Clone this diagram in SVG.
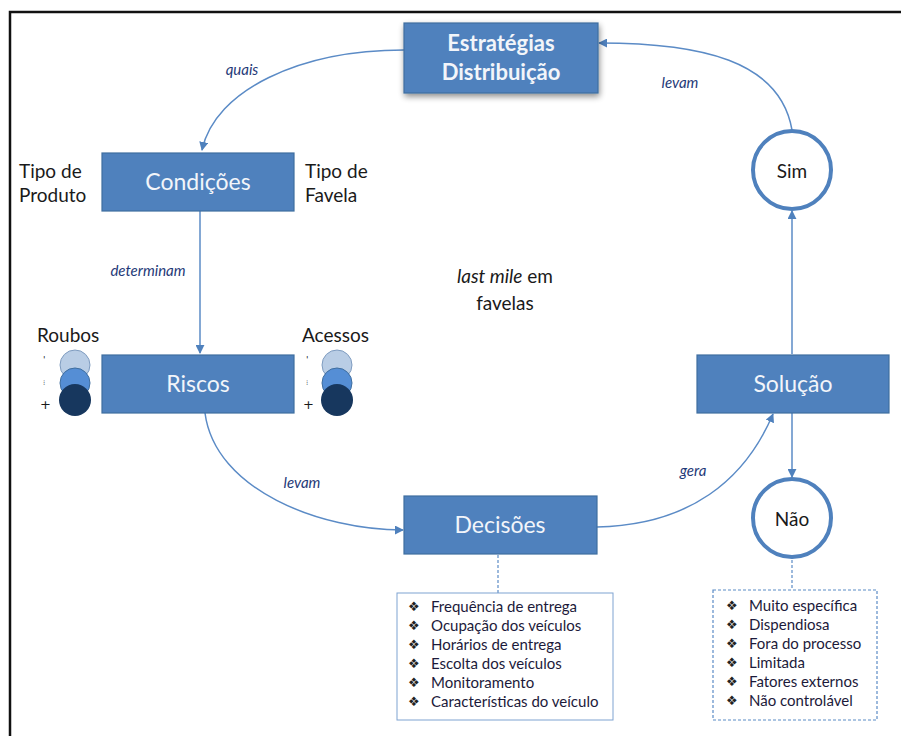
<svg xmlns="http://www.w3.org/2000/svg" width="901" height="736" viewBox="0 0 901 736">
  <defs>
    <style>
      .box { fill: #4F81BD; stroke: #3F6E9F; stroke-width: 1.2; }
      .btxt { font-family: Lato, "Liberation Sans", sans-serif; font-size: 23px; fill: #F2F5FA; text-anchor: middle; }
      .bold { font-weight: bold; font-size: 22px; }
      .lbl { font-family: Lato, "Liberation Sans", sans-serif; font-size: 19px; fill: #1a1a1a; }
      .edge { fill: none; stroke: #5B8BC6; stroke-width: 1.5; }
      .elbl { font-family: Lato, "Liberation Sans", sans-serif; font-size: 15px; font-style: italic; fill: #1F3A78; text-anchor: middle; }
      .ring { fill: #fff; stroke: #4F81BD; stroke-width: 4; }
      .list { font-family: Lato, "Liberation Sans", sans-serif; font-size: 15px; fill: #1c1a3a; }
      .bul { font-family: "DejaVu Sans", sans-serif; font-size: 13px; fill: #222; }
      .dash { fill: none; stroke: #5B8BC6; stroke-width: 1.2; stroke-dasharray: 3 2; }
      .tick { font-family: "DejaVu Sans", sans-serif; fill: #1a1a1a; }
    </style>
    <marker id="arr" viewBox="0 0 10 10" refX="9" refY="5" markerWidth="9" markerHeight="9" markerUnits="userSpaceOnUse" orient="auto">
      <path d="M0,0 L10,5 L0,10 z" fill="#4F81BD"/>
    </marker>
    <filter id="glow" x="-20%" y="-30%" width="140%" height="160%">
      <feGaussianBlur in="SourceAlpha" stdDeviation="3"/>
      <feOffset dx="1" dy="3"/>
      <feComponentTransfer><feFuncA type="linear" slope="0.45"/></feComponentTransfer>
      <feMerge><feMergeNode/><feMergeNode in="SourceGraphic"/></feMerge>
    </filter>
  </defs>

  <rect width="901" height="736" fill="#fff"/>
  <!-- outer frame -->
  <path d="M10,736 V12 H901" fill="none" stroke="#111" stroke-width="2.5"/>

  <!-- connectors -->
  <g id="connectors">
    <path class="edge" d="M404,50 C300,50 215,90 202,150" marker-end="url(#arr)"/>
    <path class="edge" d="M792,130 C780,60 700,43 599,43" marker-end="url(#arr)"/>
    <path class="edge" d="M200,211 V353" marker-end="url(#arr)"/>
    <path class="edge" d="M205,413 C215,490 320,530 403,530" marker-end="url(#arr)"/>
    <path class="edge" d="M597,527 C690,525 745,480 773,414" marker-end="url(#arr)"/>
    <path class="edge" d="M792,354 V211" marker-end="url(#arr)"/>
    <path class="edge" d="M792,413 V477" marker-end="url(#arr)"/>
    <path class="dash" d="M498,555 V593"/>
    <path class="dash" d="M792,560 V590"/>
    <text class="elbl" x="242" y="75">quais</text>
    <text class="elbl" x="680" y="88">levam</text>
    <text class="elbl" x="148" y="276">determinam</text>
    <text class="elbl" x="302" y="488">levam</text>
    <text class="elbl" x="693" y="476">gera</text>
  </g>

  <g id="estrategias">
    <rect class="box" x="404" y="23" width="194" height="70" filter="url(#glow)"/>
    <text class="btxt bold" x="501" y="51">Estratégias</text>
    <text class="btxt bold" x="501" y="80">Distribuição</text>
  </g>

  <g id="condicoes">
    <rect class="box" x="102" y="153" width="192" height="58"/>
    <text class="btxt" x="198" y="190">Condições</text>
    <text class="lbl" x="19" y="178">Tipo de</text>
    <text class="lbl" x="19" y="202">Produto</text>
    <text class="lbl" x="305" y="178">Tipo de</text>
    <text class="lbl" x="305" y="202">Favela</text>
  </g>

  <g id="riscos">
    <rect class="box" x="102" y="355" width="192" height="58"/>
    <text class="btxt" x="198" y="392">Riscos</text>
  </g>

  <g id="roubos">
    <text class="lbl" x="37" y="342">Roubos</text>
    <circle cx="75" cy="365" r="15" fill="#B9CDE5" stroke="#7F9CC0" stroke-width="1"/>
    <circle cx="75" cy="383" r="15" fill="#558ED5" stroke="#3F6E9F" stroke-width="1"/>
    <circle cx="75" cy="400" r="16" fill="#17375E"/>
    <text class="tick" x="43" y="363" font-size="9">'</text>
    <text class="tick" x="43" y="385" font-size="7">⁝</text>
    <text class="tick" x="40" y="409" font-size="13">+</text>
  </g>

  <g id="acessos">
    <text class="lbl" x="302" y="342">Acessos</text>
    <circle cx="337" cy="365" r="15" fill="#B9CDE5" stroke="#7F9CC0" stroke-width="1"/>
    <circle cx="337" cy="383" r="15" fill="#558ED5" stroke="#3F6E9F" stroke-width="1"/>
    <circle cx="337" cy="400" r="16" fill="#17375E"/>
    <text class="tick" x="306" y="363" font-size="9">'</text>
    <text class="tick" x="306" y="385" font-size="7">⁝</text>
    <text class="tick" x="303" y="409" font-size="13">+</text>
  </g>

  <g id="centro">
    <text class="lbl" x="505" y="283" text-anchor="middle" font-size="21"><tspan font-style="italic">last mile</tspan> em</text>
    <text class="lbl" x="505" y="310" text-anchor="middle" font-size="21">favelas</text>
  </g>

  <g id="decisoes">
    <rect class="box" x="404" y="496" width="193" height="58"/>
    <text class="btxt" x="500" y="533">Decisões</text>
  </g>

  <g id="solucao">
    <rect class="box" x="697" y="355" width="192" height="58"/>
    <text class="btxt" x="793" y="392">Solução</text>
  </g>

  <g id="sim">
    <circle class="ring" cx="792" cy="170" r="39"/>
    <text class="lbl" x="792" y="178" text-anchor="middle" font-size="22">Sim</text>
  </g>

  <g id="nao">
    <circle class="ring" cx="792" cy="518" r="39"/>
    <text class="lbl" x="792" y="526" text-anchor="middle" font-size="22">Não</text>
  </g>

  <g id="lista-decisoes">
    <rect x="397" y="593" width="216" height="127" fill="#fff" stroke="#7FA3D1" stroke-width="1"/>
    <g class="bul">
      <text x="408" y="611">❖</text><text x="408" y="630">❖</text><text x="408" y="649">❖</text>
      <text x="408" y="668">❖</text><text x="408" y="687">❖</text><text x="408" y="706">❖</text>
    </g>
    <g class="list">
      <text x="431" y="612">Frequência de entrega</text>
      <text x="431" y="631">Ocupação dos veículos</text>
      <text x="431" y="650">Horários de entrega</text>
      <text x="431" y="669">Escolta dos veículos</text>
      <text x="431" y="688">Monitoramento</text>
      <text x="431" y="707">Características do veículo</text>
    </g>
  </g>

  <g id="lista-nao">
    <rect class="dash" x="713" y="590" width="164" height="130"/>
    <g class="bul">
      <text x="726" y="610">❖</text><text x="726" y="629">❖</text><text x="726" y="648">❖</text>
      <text x="726" y="667">❖</text><text x="726" y="686">❖</text><text x="726" y="705">❖</text>
    </g>
    <g class="list">
      <text x="749" y="611">Muito específica</text>
      <text x="749" y="630">Dispendiosa</text>
      <text x="749" y="649">Fora do processo</text>
      <text x="749" y="668">Limitada</text>
      <text x="749" y="687">Fatores externos</text>
      <text x="749" y="706">Não controlável</text>
    </g>
  </g>
</svg>
